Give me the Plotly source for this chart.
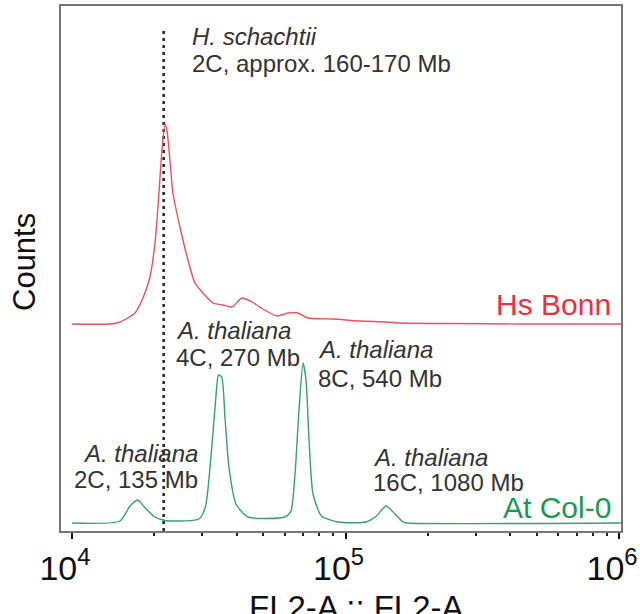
import plotly.graph_objects as go

# ---- data ----
# Hs Bonn (red) histogram: fluorescence (FL2-A) and counts (arbitrary units)
hs_x = [10000, 13770, 14980, 16990, 18180, 19280, 20120, 20800, 21330, 21880,
        22240, 22810, 23390, 24820, 26550, 28170, 30130, 32770, 35650, 38460,
        41840, 45500, 49900, 56170, 61640, 67010, 72890, 89960, 112900, 141800,
        158200, 241000, 434500, 1016000]
hs_y = [0, 0, 2, 11, 26, 47, 81, 131, 174, 200,
        194, 164, 131, 97, 64, 41, 31, 21, 19, 17,
        26, 22, 15, 8, 11, 11, 6, 5, 3, 2,
        1, 0.5, 0, 0]

# At Col-0 (green) histogram
at_x = [10000, 14980, 16300, 17380, 18410, 20050, 21520, 23020, 29120, 30750,
        32380, 33520, 34330, 35280, 36250, 37480, 39780, 44000, 60090, 63180,
        65370, 67600, 69940, 71730, 73560, 76080, 81670, 93890, 118800, 129800,
        140600, 151700, 162300, 167900, 1016000]
at_y = [0, 2, 17, 23, 16, 6, 3, 2, 4, 16,
        73, 123, 148, 146, 106, 56, 19, 6, 6, 12,
        49, 113, 160, 143, 83, 29, 7, 1, 1, 7,
        17, 9, 1, 0, 0]

hs_offset = 199          # vertical offset of the Hs Bonn trace
ref_x = 21640            # dotted reference line (H. schachtii 2C)
ref_y = [-8, 493]

major_ticks = [1e4, 1e5, 1e6]
major_text = ["10<sup>4</sup>", "10<sup>5</sup>", "10<sup>6</sup>"]
minor_ticks = [2e4, 3e4, 4e4, 5e4, 6e4, 7e4, 8e4, 9e4,
               2e5, 3e5, 4e5, 5e5, 6e5, 7e5, 8e5, 9e5]

FONT = "Liberation Sans, Arial, sans-serif"
RED_LINE = "#f0505a"
RED_TEXT = "#ee2f3c"
GREEN_LINE = "#34a36a"
GREEN_TEXT = "#1a9a4e"
TXT = "#333333"

fig = go.Figure()
fig.add_trace(go.Scatter(x=[ref_x, ref_x], y=ref_y, mode="lines",
                         line=dict(color="#222", width=2.5, dash="3px,4px"),
                         hoverinfo="skip"))
fig.add_trace(go.Scatter(x=hs_x, y=[v + hs_offset for v in hs_y], mode="lines",
                         line=dict(color=RED_LINE, width=1.4, shape="spline", smoothing=0.6)))
fig.add_trace(go.Scatter(x=at_x, y=at_y, mode="lines",
                         line=dict(color=GREEN_LINE, width=1.4, shape="spline", smoothing=0.6)))

L, R, T, B = 61, 19, 6, 83
W, H = 640, 614
pw, ph = W - L - R, H - T - B


def px(xp):
    return (xp - L) / pw


def py(yp):
    return (H - B - yp) / ph


ann = []


def add(text, x, y, xa="left", size=24, color=TXT, ya="middle", angle=0):
    ann.append(dict(text=text, x=x, y=y, xref="paper", yref="paper",
                    xanchor=xa, yanchor=ya, showarrow=False, textangle=angle,
                    font=dict(family=FONT, size=size, color=color)))


add("<i>H. schachtii</i>", px(190), py(37))
add("2C, approx. 160-170 Mb", px(190), py(63.5))
add("<i>A. thaliana</i>", px(174), py(330))
add("4C, 270 Mb", px(174), py(357))
add("<i>A. thaliana</i>", px(316), py(349))
add("8C, 540 Mb", px(316), py(378))
add("<i>A. thaliana</i>", px(200), py(453), xa="right")
add("2C, 135 Mb", px(200), py(479), xa="right")
add("<i>A. thaliana</i>", px(371), py(457))
add("16C, 1080 Mb", px(371), py(482))
add("Hs Bonn", px(613), py(304), xa="right", size=30, color=RED_TEXT)
add("At Col-0", px(613), py(507), xa="right", size=30, color=GREEN_TEXT)
add("Counts", px(24), py(262), xa="center", size=31, color="#111", angle=-90)
add("FL2-A :: FL2-A", px(356), py(607), xa="center", size=33, color="#111")

fig.update_layout(
    template="none",
    width=W, height=H,
    margin=dict(l=L, r=R, t=T, b=B, autoexpand=False),
    paper_bgcolor="white", plot_bgcolor="white",
    showlegend=False,
    annotations=ann,
    font=dict(family=FONT, color="#111"),
)
fig.update_xaxes(type="log", range=[3.96, 6.007], automargin=False,
                 tickvals=major_ticks, ticktext=major_text,
                 ticklabeloverflow="allow", ticklabelshift=-7,
                 ticks="outside", ticklen=6, tickwidth=2, tickcolor="#111",
                 tickfont=dict(family=FONT, size=34, color="#111"),
                 minor=dict(tickvals=minor_ticks, ticks="outside", ticklen=3,
                            tickwidth=1.5, tickcolor="#222", showgrid=False),
                 showgrid=False, zeroline=False,
                 showline=True, linecolor="#777", linewidth=1.5, mirror=True)
fig.update_yaxes(range=[-8, 517], automargin=False,
                 showticklabels=False, ticks="",
                 showgrid=False, zeroline=False,
                 showline=True, linecolor="#777", linewidth=1.5, mirror=True)

fig.write_html("out.html")
